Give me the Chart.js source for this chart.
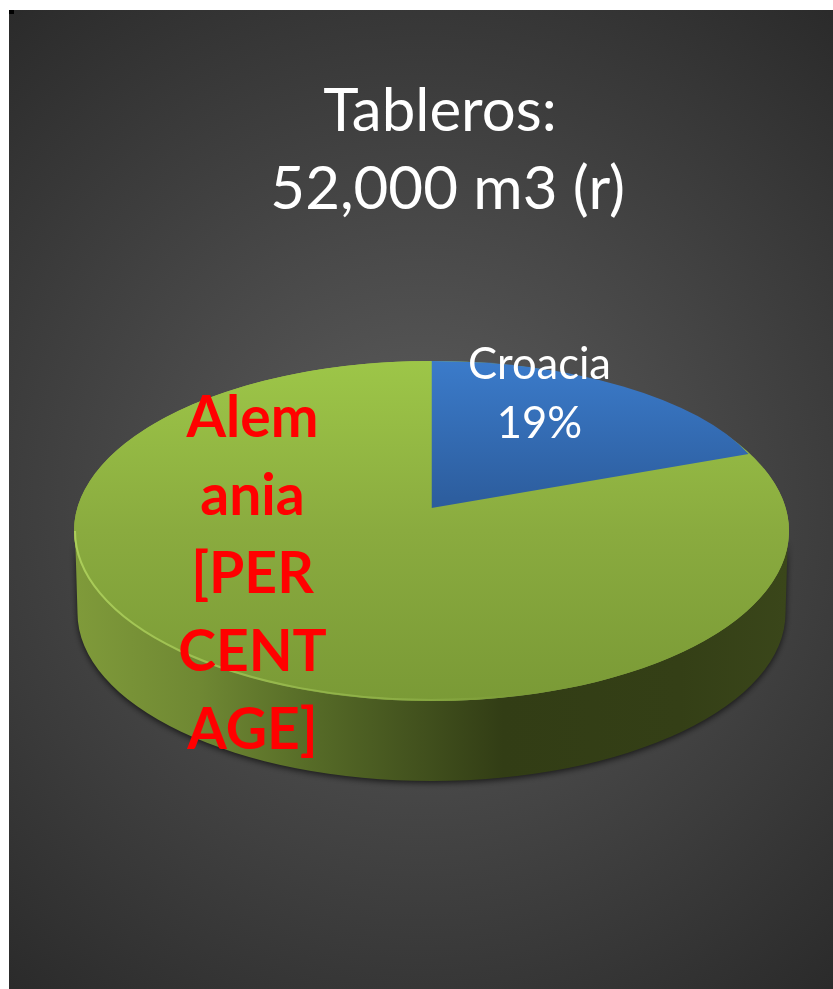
<!DOCTYPE html>
<html><head><meta charset="utf-8">
<style>html,body{margin:0;padding:0;background:#fff}canvas{display:block}</style>
<script src="https://cdn.jsdelivr.net/npm/chart.js@4"></script>
</head><body>
<div style="width:833px;height:989px;position:relative"><canvas id="c" width="833" height="989"></canvas></div>
<script>
const categories = ['Croacia', 'Alemania'];
const seriesValues = [19, 81];
const titleLines = ['Tableros:', ' 52,000 m3 (r)'];
const croaciaLabel = ['Croacia', '19%'];
const alemaniaLabel = ['Alem', 'ania', '[PER', 'CENT', 'AGE]'];

const top_ = {cx: 431.5, cy: 531, rx: 357.5, ry: 170};
const bottom_ = {cx: 431.5, cy: 613, rx: 354, ry: 168};
const wedges = [
  {cx: 431.5, cy: 508, rx: 341, ry: 147},
  {cx: 431.5, cy: 531, rx: 357.5, ry: 170}
];

function arcFill(ctx) {
  const chart = ctx.chart, a = chart.chartArea;
  if (!a) return '#8aab3f';
  const r = Math.min(a.right - a.left, a.bottom - a.top) / 2;
  const y = (a.top + a.bottom) / 2;
  const g = chart.ctx.createLinearGradient(0, y - r, 0, y + r);
  if (ctx.dataIndex === 0) {
    g.addColorStop(0, '#3b7bca'); g.addColorStop(0.5, '#2c5c9c'); g.addColorStop(1, '#2c5c9c');
  } else {
    g.addColorStop(0, '#9dc648'); g.addColorStop(0.5, '#8aab3f'); g.addColorStop(1, '#7a9a36');
  }
  return g;
}

const pie3d = {
  id: 'pie3d',
  beforeDraw(chart) {
    const c = chart.ctx;
    c.save();
    const g = c.createRadialGradient(421, 500, 0, 421, 500, 660);
    g.addColorStop(0, '#5e5e5e'); g.addColorStop(1, '#292929');
    c.fillStyle = g;
    c.fillRect(9, 10, 824, 979);
    c.fillStyle = '#000';
    c.fillRect(9, 10, 5, 4);
    c.restore();
  },
  beforeDatasetsDraw(chart) {
    const c = chart.ctx;
    const meta = chart.getDatasetMeta(0);
    meta.data.forEach((el, i) => {
      if (el.__wrapped) return;
      el.__wrapped = true;
      const w = wedges[i], proto = Chart.ArcElement.prototype;
      el.draw = function (ctx) {
        ctx.save();
        ctx.translate(w.cx, w.cy);
        ctx.scale(w.rx / this.outerRadius, w.ry / this.outerRadius);
        ctx.translate(-this.x, -this.y);
        proto.draw.call(this, ctx);
        ctx.restore();
      };
    });
    // side wall
    c.save();
    c.shadowColor = 'rgba(0,0,0,0.65)'; c.shadowBlur = 6; c.shadowOffsetY = 2;
    const s = c.createLinearGradient(78, 0, 786, 0);
    [[0, '#7f9a3a'], [0.17, '#6f8833'], [0.33, '#566b27'], [0.46, '#45551f'],
     [0.6, '#323d15'], [0.85, '#343f16'], [1, '#3a461a']].forEach(p => s.addColorStop(p[0], p[1]));
    c.fillStyle = s;
    c.beginPath();
    c.ellipse(top_.cx, top_.cy, top_.rx - 1, top_.ry, 0, Math.PI, 0, true);
    c.ellipse(bottom_.cx, bottom_.cy, bottom_.rx, bottom_.ry, 0, 0, Math.PI, false);
    c.closePath();
    c.fill();
    c.restore();
    // top disc
    c.save();
    const d = c.createLinearGradient(0, top_.cy - top_.ry, 0, top_.cy + top_.ry);
    d.addColorStop(0, '#9dc648'); d.addColorStop(0.5, '#8aab3f'); d.addColorStop(1, '#7a9a36');
    c.fillStyle = d;
    c.beginPath();
    c.ellipse(top_.cx, top_.cy, top_.rx, top_.ry, 0, 0, Math.PI * 2);
    c.fill();
    c.restore();
  },
  afterDatasetsDraw(chart) {
    const c = chart.ctx;
    c.save();
    // rim highlight
    const h = c.createLinearGradient(74, 0, 520, 0);
    h.addColorStop(0, 'rgba(190,225,105,0.65)');
    h.addColorStop(0.7, 'rgba(165,200,90,0.45)');
    h.addColorStop(1, 'rgba(165,200,90,0)');
    c.strokeStyle = h; c.lineWidth = 2;
    c.beginPath();
    c.ellipse(top_.cx, top_.cy, top_.rx - 1, top_.ry - 1, 0, Math.PI, Math.PI * 0.35, true);
    c.stroke();
    // data labels
    c.textAlign = 'center'; c.textBaseline = 'alphabetic';
    c.fillStyle = '#ffffff';
    c.font = '43.5px Lato';
    croaciaLabel.forEach((t, i) => c.fillText(t, 539.5, 379 + i * 59));
    c.fillStyle = '#ff0000';
    c.font = 'bold 57px Lato';
    alemaniaLabel.forEach((t, i) => c.fillText(t, 252.5, 437 + i * 78));
    c.restore();
  }
};

new Chart(document.getElementById('c'), {
  type: 'pie',
  data: {
    labels: categories,
    datasets: [{ data: seriesValues, backgroundColor: arcFill, borderWidth: 0, hoverOffset: 0 }]
  },
  options: {
    responsive: false,
    animation: false,
    events: [],
    layout: { padding: { left: 47, right: 0, top: 0, bottom: 0 } },
    plugins: {
      legend: { display: false },
      tooltip: { enabled: false },
      title: {
        display: true,
        text: titleLines,
        color: '#ffffff',
        font: { family: 'Lato', size: 60, weight: 'normal', lineHeight: 1.3 },
        padding: { top: 73, bottom: 20 }
      }
    }
  },
  plugins: [pie3d]
});
</script>
</body></html>
